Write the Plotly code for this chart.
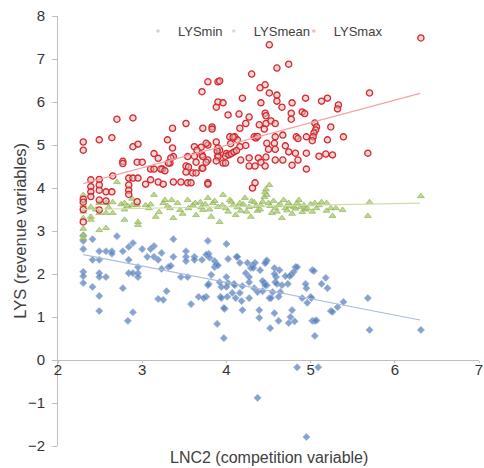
import plotly.graph_objects as go

# ---- data (x = LNC2, y = LYS) ----
lysmin_pts = [
    (2.30, 2.77), (2.30, 2.58), (2.30, 2.05), (2.30, 1.95), (2.30, 1.79), (2.30, 2.90),
    (2.41, 2.81), (2.41, 2.33), (2.41, 1.70), (2.49, 2.53), (2.49, 2.33), (2.49, 2.02),
    (2.49, 1.93), (2.49, 1.49), (2.49, 1.14), (2.57, 2.53), (2.57, 1.93), (2.64, 2.53),
    (2.64, 2.47), (2.70, 2.88), (2.77, 2.53), (2.77, 1.67), (2.84, 2.63), (2.84, 2.33),
    (2.84, 2.02), (2.83, 0.91), (2.89, 2.72), (2.89, 2.02), (2.89, 1.11), (2.95, 2.16),
    (2.95, 2.02), (2.95, 1.93), (3.00, 2.58), (3.06, 2.40), (3.14, 2.65), (3.14, 2.40),
    (3.19, 2.33), (3.10, 2.58), (3.23, 2.49), (3.19, 1.42), (3.25, 1.40), (3.29, 1.60),
    (3.23, 2.12), (3.31, 2.16), (3.34, 2.19), (3.37, 2.40), (3.37, 2.81), (3.46, 1.93),
    (3.52, 2.53), (3.52, 2.40), (3.52, 2.30), (3.54, 1.93), (3.58, 1.30), (3.62, 2.40),
    (3.62, 2.33), (3.67, 1.47), (3.76, 1.47), (3.71, 2.33), (3.78, 2.77), (3.79, 2.47),
    (3.79, 1.77), (3.86, 2.16), (3.89, 0.84), (3.92, 1.81), (3.94, 1.70), (3.93, 1.47),
    (4.01, 1.47), (3.97, 0.51), (4.00, 2.70), (3.98, 1.19), (4.00, 1.93), (4.02, 2.35),
    (4.09, 1.77), (4.12, 2.40), (3.76, 2.45), (3.80, 2.38), (3.86, 2.30), (3.88, 2.22),
    (3.90, 2.20), (4.13, 2.40), (4.16, 2.26), (4.25, 2.26), (4.31, 2.20), (4.29, 2.14),
    (4.34, 2.26), (4.40, 2.09), (4.47, 2.28), (4.48, 2.32), (4.46, 2.25), (4.57, 2.14),
    (4.63, 2.09), (4.77, 1.98), (4.82, 2.16), (4.80, 2.05), (4.75, 1.95), (3.82, 1.98),
    (4.02, 1.79), (4.00, 1.70), (4.10, 1.74), (4.23, 2.02), (4.27, 1.81), (4.33, 1.67),
    (4.37, 1.58), (4.45, 1.79), (4.48, 1.74), (4.58, 1.81), (4.60, 1.77), (4.66, 1.74),
    (4.64, 1.58), (4.51, 1.44), (4.43, 1.60), (4.55, 1.58), (4.16, 1.56), (4.07, 1.56),
    (3.73, 1.44), (3.94, 1.44), (4.11, 1.44), (4.27, 1.44), (3.78, 1.74), (4.95, 1.67),
    (4.90, 1.44), (4.96, 1.33), (3.97, 1.21), (4.19, 1.16), (4.39, 1.16), (4.39, 0.98),
    (4.57, 1.09), (4.62, 0.91), (4.76, 1.00), (4.78, 1.16), (4.74, 0.86), (4.52, 0.74),
    (4.27, 1.93), (4.59, 1.93), (5.02, 2.09), (5.18, 1.91), (5.13, 1.77), (4.94, 1.77),
    (5.00, 1.47), (5.24, 1.14), (5.02, 0.91), (4.81, 0.90), (4.18, 1.37), (4.53, 1.44),
    (4.62, 1.47), (4.32, 2.14), (4.84, 2.16), (4.19, 1.72), (4.46, 1.74), (4.73, 1.77),
    (4.43, 1.84), (4.57, 2.00), (4.70, 1.95), (5.04, 2.07), (5.20, 1.67), (5.01, 1.44),
    (5.39, 1.35), (5.32, 1.23), (5.26, 1.12), (5.68, 1.44), (5.05, 0.91), (5.07, 0.92),
    (5.05, 0.56), (5.70, 0.70), (6.31, 0.70),
    (4.84, -0.17), (5.09, -0.17), (4.37, -0.88), (4.95, -1.79),
]

lysmean_pts = [
    (2.30, 2.90), (2.30, 2.83), (2.30, 3.05), (2.30, 3.30), (2.30, 3.45), (2.30, 3.60),
    (2.30, 3.84), (2.39, 3.56), (2.39, 3.33), (2.39, 3.26), (2.45, 3.50), (2.49, 3.65),
    (2.49, 3.42), (2.49, 3.02), (2.57, 3.65), (2.57, 3.42), (2.57, 3.07), (2.60, 3.55),
    (2.65, 3.67), (2.65, 3.42), (2.70, 4.14), (2.75, 3.62), (2.79, 3.65), (2.79, 3.50),
    (2.79, 3.26), (2.83, 3.58), (2.88, 3.60), (2.88, 3.75), (2.95, 3.21), (2.95, 3.14),
    (2.94, 3.60), (3.04, 3.60), (3.08, 3.53), (3.10, 3.62), (3.14, 3.84), (3.16, 3.33),
    (3.20, 3.44), (3.25, 3.65), (3.27, 3.72), (3.30, 3.58), (3.33, 3.53), (3.35, 3.72),
    (3.37, 3.30), (3.42, 3.65), (3.45, 3.49), (3.48, 3.40), (3.54, 3.72), (3.55, 3.53),
    (3.60, 3.60), (3.63, 3.65), (3.64, 3.37), (3.69, 3.67), (3.70, 3.55), (3.72, 3.49),
    (3.75, 3.62), (3.78, 3.77), (3.80, 3.50), (3.82, 3.33), (3.84, 3.65), (3.86, 3.70),
    (3.90, 3.56), (3.92, 3.21), (3.95, 3.60), (3.96, 3.84), (3.99, 3.53), (4.02, 3.45),
    (4.04, 3.72), (4.06, 3.68), (4.08, 3.60), (4.11, 3.37), (4.13, 3.55), (4.16, 3.65),
    (4.17, 3.47), (4.20, 3.62), (4.22, 3.77), (4.24, 3.45), (4.27, 3.56), (4.29, 3.33),
    (4.30, 3.70), (4.33, 3.67), (4.35, 3.58), (4.37, 3.47), (4.40, 3.50), (4.41, 3.60),
    (4.43, 3.68), (4.45, 3.79), (4.46, 3.90), (4.47, 3.97), (4.48, 3.84), (4.50, 3.65),
    (4.51, 4.07), (4.52, 3.58), (4.54, 3.42), (4.56, 3.70), (4.58, 3.53), (4.60, 3.45),
    (4.62, 3.60), (4.64, 3.62), (4.66, 3.30), (4.68, 3.72), (4.70, 3.53), (4.72, 3.48),
    (4.74, 3.65), (4.76, 3.58), (4.78, 3.40), (4.80, 3.56), (4.82, 3.52), (4.84, 3.65),
    (4.86, 3.72), (4.88, 3.56), (4.90, 3.44), (4.92, 3.60), (4.94, 3.50), (4.96, 3.53),
    (5.00, 3.62), (5.02, 3.45), (5.05, 3.65), (5.07, 3.53), (5.10, 3.60), (5.13, 3.67),
    (5.19, 3.65), (5.19, 3.47), (5.24, 3.53), (5.26, 3.35), (5.30, 3.53), (5.38, 3.49),
    (5.70, 3.67), (5.68, 3.35), (6.31, 3.81),
]

lysmax_pts = [
    (2.30, 5.07), (2.30, 4.88), (2.49, 5.12), (2.64, 5.17), (2.70, 5.60), (2.89, 5.63),
    (2.89, 4.96), (2.95, 5.02), (2.77, 4.62), (2.77, 4.57), (2.94, 4.60), (3.00, 4.60),
    (2.39, 4.19), (2.49, 4.20), (2.39, 4.03), (2.39, 3.91), (2.39, 3.80), (2.49, 4.07),
    (2.49, 3.95), (2.49, 3.72), (2.30, 3.74), (2.30, 3.67), (2.30, 3.21), (2.30, 3.50),
    (2.57, 3.91), (2.64, 3.91), (2.57, 3.70), (2.49, 3.49), (2.84, 4.23), (2.89, 4.23),
    (2.95, 4.23), (2.84, 4.07), (2.84, 3.95), (2.84, 3.85), (2.94, 3.68), (3.04, 4.09),
    (3.10, 4.19), (3.14, 4.80), (3.19, 4.69), (3.10, 4.44), (3.14, 4.44), (3.19, 4.14),
    (3.24, 4.44), (3.25, 4.09), (3.30, 5.12), (3.33, 4.58), (3.36, 5.39), (3.37, 4.14),
    (3.37, 4.73), (3.46, 4.14), (3.52, 5.50), (3.52, 4.51), (3.52, 4.37), (3.54, 4.73),
    (3.54, 4.12), (3.60, 4.35), (3.62, 4.96), (3.62, 4.74), (3.71, 4.46), (3.71, 4.77),
    (3.71, 6.24), (3.72, 5.39), (3.72, 4.73), (3.78, 6.47), (3.78, 5.00), (3.78, 4.65),
    (3.78, 4.12), (3.88, 5.07), (3.90, 6.47), (3.90, 6.00), (3.96, 5.98), (3.88, 5.88),
    (3.90, 4.93), (3.90, 4.76), (3.96, 4.58), (4.02, 5.70), (4.04, 5.19), (4.10, 5.19),
    (4.00, 4.80), (3.99, 4.58), (4.13, 5.12), (3.36, 4.93), (3.34, 4.70), (2.65, 4.28),
    (3.22, 4.44), (3.27, 4.40), (3.31, 4.58), (3.55, 4.49), (3.58, 4.12),
    (4.51, 7.33), (4.74, 6.88), (4.60, 6.79), (4.30, 6.65), (3.92, 6.49), (4.40, 6.33),
    (4.46, 6.40), (4.51, 6.21), (4.60, 6.16), (4.19, 6.09), (4.60, 6.02), (4.94, 6.09),
    (4.41, 5.98), (4.78, 5.98), (4.66, 5.88), (4.90, 5.77), (4.93, 5.73), (4.46, 5.74),
    (4.47, 5.68), (4.15, 5.72), (4.27, 5.65), (4.77, 5.74), (4.77, 5.60), (3.83, 5.42),
    (3.83, 5.37), (4.23, 5.50), (4.39, 5.47), (4.47, 5.50), (4.53, 5.56), (4.58, 5.50),
    (4.16, 5.39), (4.45, 5.37), (4.08, 5.18), (4.33, 5.19), (4.35, 5.16), (4.37, 5.20),
    (4.58, 5.19), (4.67, 5.23), (4.83, 5.19), (4.85, 5.15), (4.95, 5.19), (3.76, 5.04),
    (3.70, 4.95), (4.05, 5.03), (4.48, 5.04), (4.57, 5.04), (4.70, 4.98), (4.16, 4.96),
    (4.23, 4.99), (3.92, 4.88), (3.99, 4.74), (4.03, 4.77), (4.06, 4.80), (4.09, 4.84),
    (4.12, 4.87), (3.89, 4.86), (4.50, 4.90), (4.58, 4.90), (4.74, 4.84), (4.82, 4.81),
    (4.95, 4.81), (3.65, 4.88), (3.90, 4.72), (3.88, 4.63), (3.76, 4.60), (3.64, 4.60),
    (4.17, 4.65), (4.27, 4.70), (4.27, 4.51), (4.38, 4.70), (4.41, 4.60), (4.47, 4.72),
    (4.46, 4.51), (4.58, 4.65), (4.67, 4.65), (4.78, 4.53), (4.85, 4.65), (4.34, 4.51),
    (3.72, 4.46), (3.64, 4.35), (4.95, 4.44), (3.78, 4.09), (4.31, 4.00), (4.34, 4.12),
    (6.31, 7.49), (5.70, 6.21), (5.13, 6.02), (5.20, 6.09), (5.33, 5.93), (5.32, 5.84),
    (5.05, 5.51), (5.07, 5.42), (5.06, 5.35), (5.04, 5.28), (5.03, 5.19), (5.02, 5.10),
    (5.24, 5.42), (5.39, 5.19), (5.20, 5.12), (5.10, 4.74), (5.18, 4.79), (5.26, 4.77),
    (5.68, 4.81),
]

# linear trend lines (end points)
trend_x = [2.3, 6.3]
trend_min = [2.45, 0.93]
trend_mean = [3.50, 3.65]
trend_max = [4.10, 6.20]

series_names = ["LYSmin", "LYSmean", "LYSmax"]
x_ticks = [2, 3, 4, 5, 6, 7]
y_ticks = [-2, -1, 0, 1, 2, 3, 4, 5, 6, 7, 8]

FONT = "Liberation Sans, Arial, sans-serif"

min_marker = dict(symbol="diamond", size=5.5, color="rgba(88,128,190,0.72)",
                  line=dict(color="rgba(150,175,212,0.9)", width=0.7))
mean_marker = dict(symbol="triangle-up", size=6, color="rgba(178,206,120,0.8)",
                   line=dict(color="rgba(135,175,75,0.9)", width=0.7))
max_marker = dict(symbol="circle", size=6.2, color="rgba(215,185,185,0.55)",
                  line=dict(color="#d8262c", width=1.3))

fig = go.Figure()

fig.add_trace(go.Scatter(
    x=[p[0] for p in lysmin_pts], y=[p[1] for p in lysmin_pts], mode="markers",
    name=series_names[0], showlegend=False, marker=min_marker))
fig.add_trace(go.Scatter(
    x=[p[0] for p in lysmean_pts], y=[p[1] for p in lysmean_pts], mode="markers",
    name=series_names[1], showlegend=False, marker=mean_marker))
fig.add_trace(go.Scatter(
    x=[p[0] for p in lysmax_pts], y=[p[1] for p in lysmax_pts], mode="markers",
    name=series_names[2], showlegend=False, marker=max_marker))

# trend lines (drawn on top, as in the reference)
for ty, col in [(trend_min, "#a9bedd"), (trend_mean, "#cfdcaa"), (trend_max, "#f2a5a5")]:
    fig.add_trace(go.Scatter(x=trend_x, y=ty, mode="lines", showlegend=False,
                             line=dict(color=col, width=1.2), hoverinfo="skip"))

# legend entries (one small legend each, to reproduce the tight spacing)
legend_ids = ["legend", "legend2", "legend3"]
for nm, col, lg in zip(series_names, ["#c9d3e2", "#d6dfc4", "#f0b8bc"], legend_ids):
    fig.add_trace(go.Scatter(x=[None], y=[None], mode="markers", name=nm, legend=lg,
                             marker=dict(symbol="circle", size=3.5, color=col)))

legend_style = dict(orientation="h", y=1.0, xanchor="left", yanchor="top",
                    bgcolor="rgba(0,0,0,0)", font=dict(size=13, color="#404040"),
                    itemwidth=30)

fig.update_layout(
    width=484, height=468,
    margin=dict(l=58, r=5, t=16, b=22),
    paper_bgcolor="white", plot_bgcolor="white",
    font=dict(family=FONT, color="#333333"),
    showlegend=True,
    legend=dict(x=0.190, **legend_style),
    legend2=dict(x=0.370, **legend_style),
    legend3=dict(x=0.560, **legend_style),
    xaxis=dict(range=[2, 7], tickvals=x_ticks, showgrid=False, zeroline=False,
               showline=True, linecolor="#bfbfbf", linewidth=1,
               ticks="outside", ticklen=2, tickcolor="#bfbfbf",
               anchor="free", position=0.2, automargin=False,
               ticklabelstandoff=-6,
               tickfont=dict(size=15, color="#333333")),
    yaxis=dict(range=[-2, 8], tickvals=y_ticks, showgrid=False, zeroline=False,
               showline=True, linecolor="#bfbfbf", linewidth=1,
               ticks="outside", ticklen=5, tickcolor="#bfbfbf", automargin=False,
               ticklabelstandoff=4,
               tickfont=dict(size=15, color="#333333")),
    annotations=[
        dict(text="LYS (revenue variables)", xref="paper", yref="paper",
             x=-0.091, y=0.5, textangle=-90, showarrow=False,
             xanchor="center", yanchor="middle",
             font=dict(size=16.5, color="#404040")),
        dict(text="LNC2 (competition variable)", xref="paper", yref="paper",
             x=0.5, y=-0.026, showarrow=False, xanchor="center", yanchor="middle",
             font=dict(size=16, color="#404040")),
    ],
)

fig.write_html("out.html")
